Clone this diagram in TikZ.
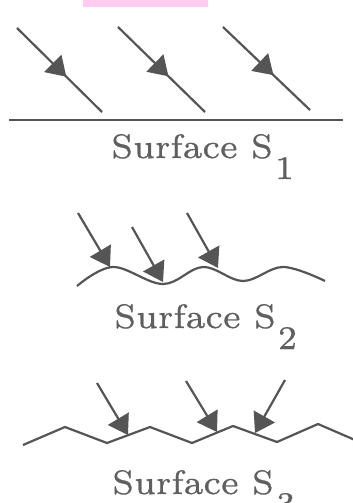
\documentclass[tikz,border=0pt]{standalone}
\usepackage{fontspec}
\newfontfamily\lbfont{lmroman7-regular.otf}[FakeStretch=1.02,FakeBold=0.6]
\usetikzlibrary{arrows.meta,decorations.markings}
\definecolor{ink}{RGB}{85,85,85}
\definecolor{txt}{RGB}{95,95,95}
\definecolor{pinkbar}{RGB}{255,204,240}
\tikzset{
  surf/.style={draw=ink, line width=2.2pt, line join=miter},
  ray/.style={draw=ink, line width=2.2pt, -{Triangle[length=19pt,width=24pt]}},
  midray/.style={draw=ink, line width=2.2pt,
    postaction={decorate, decoration={markings, mark=at position 0.58 with {\arrow{Triangle[length=19pt,width=24pt]}}}}},
  lbl/.style={anchor=base west, inner sep=0pt, text=txt, font=\lbfont\fontsize{34}{34}\selectfont}
}
\newcommand{\subnum}[1]{\kern2pt\raisebox{-21pt}{\fontsize{33}{33}\selectfont #1}}
\begin{document}
\begin{tikzpicture}[x=1pt,y=-1pt]
\useasboundingbox (0,0) rectangle (353,503);
\clip (0,0) rectangle (353,503);
\fill[pinkbar] (83,0) rectangle (208,7);
% Surface S1
\coordinate (a1s) at (17,28);  \coordinate (a1e) at (102,112);
\coordinate (a2s) at (118,27); \coordinate (a2e) at (205,112);
\coordinate (a3s) at (223,27); \coordinate (a3e) at (310,110);
\draw[midray] (a1s) -- (a1e);
\draw[midray] (a2s) -- (a2e);
\draw[midray] (a3s) -- (a3e);
\coordinate (h1) at (9,120); \coordinate (h2) at (343,120);
\draw[surf, line width=2.4pt] (h1) -- (h2);
\node[lbl] (t1) at (111,158) {Surface S\subnum{1}};
% Surface S2
\draw[surf] plot[smooth, tension=0.6] coordinates {(77,286) (113,267) (163,284) (203,267) (243,281) (283,267) (325,281)};
\coordinate (b1s) at (78,213);  \coordinate (b1e) at (110,267);
\coordinate (b2s) at (132,227); \coordinate (b2e) at (163,282);
\coordinate (b3s) at (187,213); \coordinate (b3e) at (218,268);
\draw[ray] (b1s) -- (b1e);
\draw[ray] (b2s) -- (b2e);
\draw[ray] (b3s) -- (b3e);
\node[lbl] (t2) at (114,328) {Surface S\subnum{2}};
% Surface S3
\draw[surf] (23,445) -- (65,427) -- (107,443) -- (150,427) -- (192,443) -- (233,426) -- (277,442) -- (318,424) -- (355,440);
\coordinate (c1s) at (97,383);  \coordinate (c1e) at (128,435);
\coordinate (c2s) at (186,381); \coordinate (c2e) at (217,432);
\coordinate (c3s) at (285,380); \coordinate (c3e) at (255,433);
\draw[ray] (c1s) -- (c1e);
\draw[ray] (c2s) -- (c2e);
\draw[ray] (c3s) -- (c3e);
\node[lbl] (t3) at (112,494) {Surface S\subnum{3}};
\end{tikzpicture}
\end{document}
